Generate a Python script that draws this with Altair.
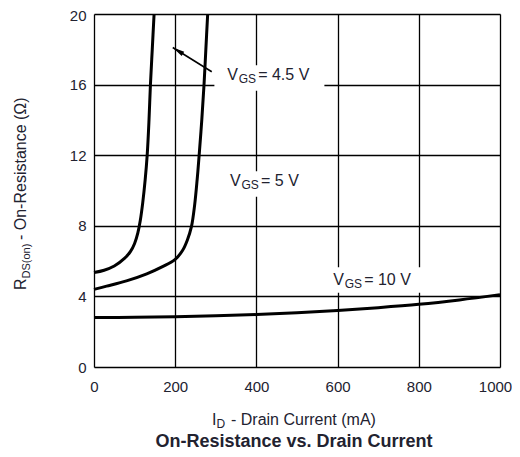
import altair as alt
import pandas as pd

# ---- data ----
id_45 = [0, 25, 50, 75, 90, 100, 108, 114, 120, 126, 131, 135.5, 139, 143.5, 148]
r_45 = [5.35, 5.48, 5.72, 6.15, 6.55, 7.0, 7.6, 8.3, 9.3, 10.6, 12.0, 14.0, 16.0, 18.0, 20.0]

id_5 = [0, 31, 80, 130, 170, 200, 218, 230, 240, 248, 254, 259, 265.5, 271, 275.5, 280]
r_5 = [4.4, 4.58, 4.88, 5.28, 5.7, 6.1, 6.6, 7.2, 7.95, 9.2, 10.6, 12.0, 14.0, 16.0, 18.0, 20.0]

id_10 = [0, 100, 200, 300, 400, 500, 600, 700, 800, 900, 1000]
r_10 = [2.8, 2.82, 2.85, 2.9, 2.97, 3.07, 3.2, 3.36, 3.55, 3.8, 4.1]

x_ticks = [0, 200, 400, 600, 800, 1000]
y_ticks = [0, 4, 8, 12, 16, 20]

label_main = ["V", "V", "V"]
label_sub = ["GS", "GS", "GS"]
label_rest = ["= 4.5 V", "= 5 V", "= 10 V"]
label_x = [328, 335, 589]
label_y = [16.54, 10.54, 4.93]
box_x = [432, 436, 695]
box_y = [16.37, 10.37, 4.93]

arrow_tail = (290, 16.73)
arrow_tip = (194, 18.1)

title_text = "On-Resistance vs. Drain Current"

# ---- tables ----
rows = []
for name, xs_, ys_ in [("4.5", id_45, r_45), ("5", id_5, r_5), ("10", id_10, r_10)]:
    for i, (a, b) in enumerate(zip(xs_, ys_)):
        rows.append({"vgs": name, "k": i, "id": a, "r": b})
curves = pd.DataFrame(rows)

labels = pd.DataFrame({"main": label_main, "sub": label_sub, "rest": label_rest,
                       "x": label_x, "y": label_y, "bx": box_x, "by": box_y})
arrow = pd.DataFrame({"x": [arrow_tail[0]], "y": [arrow_tail[1]],
                      "x2": [arrow_tip[0]], "y2": [arrow_tip[1]]})
one = pd.DataFrame({"t": [0]})

FONT = "Liberation Sans"
TXT = "#222230"

xs = alt.Scale(domain=[0, 1000], nice=False, zero=False)
ys = alt.Scale(domain=[0, 20], nice=False, zero=False)

x_axis = alt.Axis(values=x_ticks, format="d", title=None, grid=True, gridColor="black",
                  gridWidth=1.3, gridOpacity=1, domain=False, ticks=False, labelFont=FONT,
                  labelFontSize=15, labelColor=TXT, labelPadding=12, labelFlush=False,
                  labelBound=False,
                  labelOffset={"condition": {"test": "datum.value == 1000", "value": -5},
                               "value": 0})
y_axis = alt.Axis(values=y_ticks, format="d", title=None, grid=True, gridColor="black",
                  gridWidth=1.3, gridOpacity=1, domain=False, ticks=False, labelFont=FONT,
                  labelFontSize=15, labelColor=TXT, labelPadding=8, labelFlush=False,
                  labelOffset={"condition": {"test": "datum.value == 20", "value": 1.5},
                               "value": 0})

lines = alt.Chart(curves).mark_line(color="black", strokeWidth=3, interpolate="catmull-rom").encode(
    x=alt.X("id:Q", scale=xs, axis=x_axis),
    y=alt.Y("r:Q", scale=ys, axis=y_axis),
    detail="vgs:N",
    order="k:Q",
)

boxes = alt.Chart(labels).mark_point(
    shape="M-1,-0.232H1V0.232H-1Z", filled=True, fill="white", stroke=None, opacity=1, size=12100
).encode(x=alt.X("bx:Q", scale=xs), y=alt.Y("by:Q", scale=ys))

t_main = alt.Chart(labels).mark_text(font=FONT, fontSize=16, align="left", baseline="middle",
                                      color=TXT).encode(
    x=alt.X("x:Q", scale=xs), y=alt.Y("y:Q", scale=ys), text="main:N")
t_sub = alt.Chart(labels).mark_text(font=FONT, fontSize=12, align="left", baseline="middle",
                                     color=TXT, dx=11.5, dy=4).encode(
    x=alt.X("x:Q", scale=xs), y=alt.Y("y:Q", scale=ys), text="sub:N")
t_rest = alt.Chart(labels).mark_text(font=FONT, fontSize=16, align="left", baseline="middle",
                                      color=TXT, dx=31).encode(
    x=alt.X("x:Q", scale=xs), y=alt.Y("y:Q", scale=ys), text="rest:N")

arrow_line = alt.Chart(arrow).mark_rule(color="black", strokeWidth=1.6).encode(
    x=alt.X("x:Q", scale=xs), y=alt.Y("y:Q", scale=ys),
    x2="x2:Q", y2="y2:Q")
arrow_head = alt.Chart(arrow).mark_point(
    shape="M0,0L0.4,2L-0.4,2Z", filled=True, fill="black", stroke=None, opacity=1,
    size=144, angle=302
).encode(x=alt.X("x2:Q", scale=xs), y=alt.Y("y2:Q", scale=ys))

def frag(text, x, y, size, bold=False, angle=0, align="left", baseline="alphabetic"):
    kw = dict(font=FONT, fontSize=size, align=align, baseline=baseline, color=TXT,
              fontWeight="bold" if bold else "normal", text=text)
    if angle:
        kw["angle"] = angle
    return alt.Chart(one).mark_text(**kw).encode(x=alt.value(x), y=alt.value(y))

# x-axis title: I_D - Drain Current (mA)
xt1 = frag("I", 118, 411, 16)
xt2 = frag("D", 122.5, 414, 12)
xt3 = frag("- Drain Current (mA)", 137, 411, 16)
# y-axis title: R_DS(on) - On-Resistance (Ω)
yt1 = frag("R", -68.5, 276, 16, angle=270)
yt2 = frag("DS(on)", -64, 264.5, 11, angle=270)
yt3 = frag("- On-Resistance (Ω)", -68.5, 226, 16, angle=270)
# chart title
tt = frag(title_text, 200, 433, 18, bold=True, align="center")

chart = alt.layer(
    lines, boxes, t_main, t_sub, t_rest, arrow_line, arrow_head,
    xt1, xt2, xt3, yt1, yt2, yt3, tt
).properties(
    width=406, height=353,
    autosize=alt.AutoSizeParams(type="none"),
    padding={"left": 86, "top": 6, "right": 12, "bottom": 84},
).configure_view(
    stroke="black", strokeWidth=2.6
).configure(background="white")

chart.save("out.html", embed_options={"renderer": "svg", "actions": False})
